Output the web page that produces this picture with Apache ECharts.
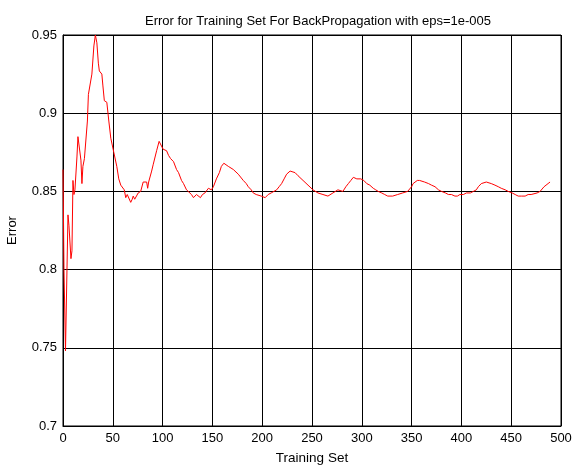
<!DOCTYPE html>
<html>
<head>
<meta charset="utf-8">
<script src="https://cdn.jsdelivr.net/npm/echarts@6/dist/echarts.min.js"></script>
<style>
html,body{margin:0;padding:0;background:#fff;}
#chart{width:573px;height:468px;}
</style>
</head>
<body>
<div id="chart"></div>
<script>
var titleText = 'Error for Training Set For BackPropagation with eps=1e-005';
var xLabel = 'Training Set';
var yLabel = 'Error';
var xTicks = [0, 50, 100, 150, 200, 250, 300, 350, 400, 450, 500];
var yTicks = [0.7, 0.75, 0.8, 0.85, 0.9, 0.95];

var trainingSet = [
  0, 1, 2.5, 3.5, 5, 6, 8, 9, 10, 11, 12, 14, 15, 17, 18, 19, 20, 21.5, 23, 24.5,
  25.5, 27, 29, 31, 32.5, 34, 35.5, 36.5, 39, 40, 41.5, 44, 46, 48, 51, 54, 56, 58, 60, 61.5,
  63, 64.5, 66, 68, 69.5, 70.5, 72, 73, 75.5, 78, 80.5, 82, 84, 85, 86, 89, 90.5, 92, 94, 96.5,
  98, 100.5, 102, 104, 106, 108, 111, 114, 116, 119, 121, 124, 126, 129, 131, 132.5, 134, 136, 138, 140,
  142.5, 144, 146, 148, 149, 151, 154, 157, 159, 161.5, 163, 166, 168, 171, 173, 176, 178, 181, 184, 186,
  189, 191, 194, 196, 199, 201, 203, 206, 209, 211, 214.5, 217, 219.5, 222, 224.5, 228, 230, 233, 236, 238,
  241, 243, 246, 248, 251, 253, 256, 258, 261, 263, 266, 268, 271, 273, 276, 278, 281, 284, 286.5, 289,
  291.5, 293, 295, 297, 299, 302, 305, 308, 311.5, 314, 316.5, 320, 323, 326, 328, 331, 333, 336, 338, 341,
  343, 346, 348, 350, 351.5, 353, 355.7, 358, 360, 363, 367, 370, 373.5, 377, 380, 384, 387, 390, 393.5, 396,
  398.5, 402, 405, 409, 412, 415, 417, 420, 422, 425, 427, 430, 433.7, 437, 440, 444, 447, 451, 454, 457,
  460.5, 464, 467, 470, 472, 476, 479, 481, 483, 485, 487, 489
];
var errorValues = [
  0.864, 0.800, 0.748, 0.749, 0.835, 0.828, 0.807, 0.812, 0.857, 0.848, 0.851, 0.872, 0.885, 0.884, 0.870, 0.855, 0.866, 0.871, 0.870, 0.895,
  0.912, 0.911, 0.925, 0.943, 0.950, 0.945, 0.932, 0.927, 0.925, 0.918, 0.908, 0.907, 0.895, 0.884, 0.875, 0.866, 0.858, 0.854, 0.855, 0.851,
  0.846, 0.848, 0.847, 0.843, 0.845, 0.847, 0.845, 0.844, 0.849, 0.850, 0.856, 0.855, 0.856, 0.852, 0.856, 0.863, 0.867, 0.868, 0.876, 0.882,
  0.881, 0.877, 0.878, 0.876, 0.873, 0.871, 0.869, 0.864, 0.862, 0.857, 0.855, 0.851, 0.850, 0.848, 0.846, 0.846, 0.848, 0.847, 0.846, 0.848,
  0.849, 0.849, 0.852, 0.852, 0.851, 0.853, 0.858, 0.862, 0.866, 0.868, 0.868, 0.866, 0.866, 0.864, 0.863, 0.861, 0.860, 0.857, 0.855, 0.853,
  0.851, 0.849, 0.848, 0.847, 0.847, 0.847, 0.846, 0.848, 0.849, 0.849, 0.851, 0.853, 0.855, 0.858, 0.861, 0.863, 0.862, 0.862, 0.860, 0.859,
  0.857, 0.856, 0.854, 0.853, 0.851, 0.850, 0.849, 0.848, 0.848, 0.847, 0.847, 0.848, 0.849, 0.850, 0.851, 0.850, 0.850, 0.853, 0.855, 0.857,
  0.859, 0.859, 0.858, 0.858, 0.858, 0.857, 0.855, 0.854, 0.852, 0.851, 0.850, 0.849, 0.848, 0.847, 0.847, 0.847, 0.847, 0.848, 0.849, 0.849,
  0.849, 0.850, 0.851, 0.853, 0.855, 0.856, 0.857, 0.857, 0.856, 0.856, 0.855, 0.854, 0.853, 0.851, 0.850, 0.849, 0.848, 0.848, 0.847, 0.847,
  0.848, 0.848, 0.849, 0.849, 0.850, 0.851, 0.853, 0.855, 0.856, 0.856, 0.855, 0.855, 0.854, 0.853, 0.852, 0.851, 0.850, 0.849, 0.848, 0.847,
  0.847, 0.847, 0.848, 0.848, 0.849, 0.849, 0.850, 0.851, 0.853, 0.854, 0.855, 0.856
];

var points = trainingSet.map(function (x, i) { return [x, errorValues[i]]; });
var font = '"Liberation Sans", Arial, sans-serif';

var chart = echarts.init(document.getElementById('chart'), null, { renderer: 'canvas' });
chart.setOption({
  animation: false,
  backgroundColor: '#ffffff',
  title: {
    text: titleText,
    left: 313, top: 10, textAlign: 'center',
    textStyle: { fontFamily: font, fontSize: 13, fontWeight: 'normal', color: '#000' }
  },
  grid: { left: 63, right: 12, top: 35, bottom: 42, containLabel: false, outerBoundsMode: 'none',
    show: true, borderColor: '#000', borderWidth: 1, backgroundColor: 'transparent' },
  xAxis: {
    type: 'value', min: xTicks[0], max: xTicks[xTicks.length - 1], interval: 50,
    name: xLabel, nameLocation: 'middle', nameGap: 25,
    nameTextStyle: { fontFamily: font, fontSize: 13.5, color: '#000' },
    axisLine: { show: true, lineStyle: { color: '#000', width: 1 } },
    axisTick: { show: false },
    axisLabel: { fontFamily: font, fontSize: 13, color: '#000', margin: 6 },
    splitLine: { show: true, lineStyle: { color: '#000', width: 1 } }
  },
  yAxis: {
    type: 'value', min: yTicks[0], max: yTicks[yTicks.length - 1], interval: 0.05,
    name: yLabel, nameLocation: 'middle', nameGap: 44, nameRotate: 90,
    nameTextStyle: { fontFamily: font, fontSize: 13, color: '#000' },
    axisLine: { show: true, lineStyle: { color: '#000', width: 1 } },
    axisTick: { show: false },
    axisLabel: { fontFamily: font, fontSize: 13, color: '#000', margin: 6,
      formatter: function (v) { return String(+v.toFixed(2)); } },
    splitLine: { show: true, lineStyle: { color: '#000', width: 1 } }
  },
  series: [{
    type: 'line', data: points, showSymbol: false, symbol: 'none',
    lineStyle: { color: '#ff0000', width: 1 }, clip: true
  }]
});
</script>
</body>
</html>
